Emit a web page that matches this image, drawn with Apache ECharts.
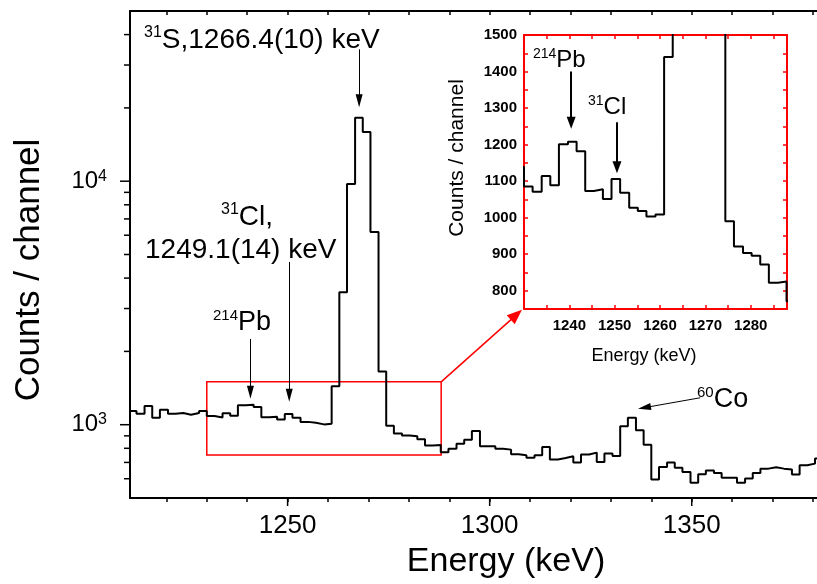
<!DOCTYPE html>
<html>
<head>
<meta charset="utf-8">
<script src="https://cdn.jsdelivr.net/npm/echarts@6/dist/echarts.min.js"></script>
<style>
html,body{margin:0;padding:0;background:#fff;}
#chart{width:817px;height:584px;}
</style>
</head>
<body>
<div id="chart"></div>
<script>
// 通道边界 (keV)：每个通道左边界，最后一个是末通道右边界
var binEdges = [
  1210.7, 1212.6, 1214.6, 1216.5, 1218.4, 1220.4, 1222.3, 1224.2, 1226.1, 1228.1,
  1230.0, 1231.9, 1233.9, 1235.8, 1237.7, 1239.7, 1241.6, 1243.5, 1245.4, 1247.4,
  1249.3, 1251.2, 1253.2, 1255.1, 1257.0, 1259.0, 1260.9, 1262.8, 1264.7, 1266.7,
  1268.6, 1270.5, 1272.5, 1274.4, 1276.3, 1278.3, 1280.2, 1282.1, 1284.0, 1286.0,
  1287.9, 1289.8, 1291.8, 1293.7, 1295.6, 1297.6, 1299.5, 1301.4, 1303.3, 1305.3,
  1307.2, 1309.1, 1311.1, 1313.0, 1314.9, 1316.9, 1318.8, 1320.7, 1322.6, 1324.6,
  1326.5, 1328.4, 1330.4, 1332.3, 1334.2, 1336.2, 1338.1, 1340.0, 1341.9, 1343.9,
  1345.8, 1347.7, 1349.7, 1351.6, 1353.5, 1355.5, 1357.4, 1359.3, 1361.2, 1363.2,
  1365.1, 1367.0, 1369.0, 1370.9, 1372.8, 1374.8, 1376.7, 1378.6, 1380.5, 1382.5
];
// 每个通道的计数
var counts = [
  1138, 1109, 1193, 1068, 1152, 1109, 1117, 1099, 1117, 1139,
  1085, 1071, 1114, 1089, 1201, 1208, 1182, 1073, 1078, 1051,
  1106, 1068, 1027, 1018, 1003, 1009, 1440, 3500, 9730, 18240,
  15920, 6190, 1653, 990, 921, 903, 896, 872, 822, 825,
  771, 797, 836, 868, 942, 815, 815, 797, 790, 756,
  749, 732, 749, 810, 719, 730, 742, 699, 754, 768,
  703, 761, 744, 986, 1068, 948, 828, 595, 671, 699,
  665, 640, 577, 626, 648, 634, 606, 605, 577, 601,
  634, 660, 669, 660, 654, 624, 681, 692, 726
];
// 主图刻度
var xMainTicks = [1220, 1230, 1240, 1250, 1260, 1270, 1280, 1290, 1300, 1310, 1320, 1330, 1340, 1350, 1360, 1370, 1380];
var xMainLabels = [1250, 1300, 1350];
var yMajorTicks = [1000, 10000];
var yMinorTicks = [600, 700, 800, 900, 2000, 3000, 4000, 5000, 6000, 7000, 8000, 9000, 20000, 30000, 40000];
// 小图刻度
var insetXTicks = [1235, 1240, 1245, 1250, 1255, 1260, 1265, 1270, 1275, 1280, 1285];
var insetXLabels = [1240, 1250, 1260, 1270, 1280];
var insetYTicks = [800, 850, 900, 950, 1000, 1050, 1100, 1150, 1200, 1250, 1300, 1350, 1400, 1450];
var insetYLabels = [800, 900, 1000, 1100, 1200, 1300, 1400, 1500];

(function () {
  var myChart = echarts.init(document.getElementById('chart'));
  var FONT = 'Liberation Sans';
  var xMin = 1211, xMax = 1381, yMin = 500, yMax = 50000;

  // 台阶线的点：左边界 + 计数，最后补一个右边界
  var stepData = binEdges.map(function (e, i) {
    return [e, counts[Math.min(i, counts.length - 1)]];
  });

  // 不要千位分隔符
  function plain(v) { return String(v); }

  // 上标文字
  function supText(sup, main, big, small) {
    return {
      text: '{s|' + sup + '}{m|' + main + '}',
      rich: {
        s: { fontSize: small, fontFamily: FONT, fill: '#000', verticalAlign: 'top', lineHeight: small },
        m: { fontSize: big, fontFamily: FONT, fill: '#000', lineHeight: big + 2 }
      },
      align: 'left',
      verticalAlign: 'middle'
    };
  }

  var redAxis = { lineStyle: { color: '#f00', width: 2 } };
  var redTick = { show: true, inside: true, length: 4, lineStyle: { color: '#f00', width: 1.5 } };

  var option = {
    animation: false,
    textStyle: { fontFamily: FONT },
    grid: [
      { left: 130, right: 0, top: 11, bottom: 86, outerBoundsMode: 'none' },
      { left: 524, top: 35, width: 263, height: 274, show: true, backgroundColor: '#fff', borderWidth: 0, outerBoundsMode: 'none' }
    ],
    xAxis: [
      {
        gridIndex: 0, type: 'value', position: 'bottom', min: xMin, max: xMax,
        axisLine: { lineStyle: { color: '#000', width: 2 } },
        axisTick: { customValues: xMainTicks, length: 4, lineStyle: { color: '#000', width: 1.5 } },
        axisLabel: { customValues: xMainLabels, fontSize: 26, color: '#000', margin: 15, formatter: plain },
        splitLine: { show: false }
      },
      {
        gridIndex: 0, type: 'value', position: 'top', min: xMin, max: xMax,
        axisLine: { lineStyle: { color: '#000', width: 2 } },
        axisTick: { customValues: xMainTicks, inside: true, length: 4, lineStyle: { color: '#000', width: 1.5 } },
        axisLabel: { show: false },
        splitLine: { show: false }
      },
      {
        gridIndex: 1, type: 'value', position: 'bottom', min: 1230, max: 1288,
        axisLine: redAxis, axisTick: Object.assign({ customValues: insetXTicks }, redTick),
        axisLabel: { customValues: insetXLabels, fontSize: 15, fontWeight: 'bold', color: '#000', margin: 9, formatter: plain },
        splitLine: { show: false }
      },
      {
        gridIndex: 1, type: 'value', position: 'top', min: 1230, max: 1288,
        axisLine: redAxis, axisTick: Object.assign({ customValues: insetXTicks }, redTick),
        axisLabel: { show: false }, splitLine: { show: false }
      }
    ],
    yAxis: [
      {
        gridIndex: 0, type: 'log', logBase: 10, min: yMin, max: yMax,
        axisLine: { show: true, lineStyle: { color: '#000', width: 2 } },
        axisTick: { show: false },
        axisLabel: {
          margin: 23,
          formatter: function (v) {
            var l = Math.log10(v), p = Math.round(l);
            if (Math.abs(l - p) > 1e-6) return '';
            return '{b|10}{s|' + p + '}';
          },
          rich: {
            b: { fontSize: 24, color: '#000', lineHeight: 26 },
            s: { fontSize: 16, color: '#000', verticalAlign: 'top', lineHeight: 16 }
          }
        },
        splitLine: { show: false }
      },
      {
        gridIndex: 1, type: 'value', position: 'left', min: 750, max: 1500,
        axisLine: Object.assign({ show: true }, redAxis),
        axisTick: Object.assign({ customValues: insetYTicks }, redTick),
        axisLabel: { customValues: insetYLabels, fontSize: 15, fontWeight: 'bold', color: '#000', margin: 7, formatter: plain },
        splitLine: { show: false }
      },
      {
        gridIndex: 1, type: 'value', position: 'right', min: 750, max: 1500,
        axisLine: Object.assign({ show: true }, redAxis),
        axisTick: Object.assign({ customValues: insetYTicks }, redTick),
        axisLabel: { show: false }, splitLine: { show: false }
      }
    ],
    series: [
      {
        name: 'spectrum', type: 'line', xAxisIndex: 0, yAxisIndex: 0,
        data: stepData, step: 'end', symbol: 'none', showSymbol: false,
        lineStyle: { color: '#000', width: 2 }, itemStyle: { color: '#000' },
        z: 3,
        markArea: {
          silent: true,
          itemStyle: { color: 'rgba(0,0,0,0)', borderColor: '#f00', borderWidth: 1.5 },
          data: [[{ coord: [1230, 750] }, { coord: [1288, 1500] }]]
        },
        // 箭头
        markLine: {
          silent: true, animation: false,
          symbol: ['none', 'triangle'], symbolSize: [7, 13],
          label: { show: false },
          lineStyle: { color: '#000', width: 1, type: 'solid' },
          data: [
            [{ coord: [1267.7, 34800] }, { coord: [1267.7, 21400] }],
            [{ coord: [1250.4, 4660] }, { coord: [1250.4, 1321] }],
            [{ coord: [1240.8, 2250] }, { coord: [1240.8, 1359] }],
            [{ coord: [1352.1, 1290] }, { coord: [1338.3, 1175] }],
            [{ coord: [1288, 1500], lineStyle: { color: '#f00', width: 1.5 }, itemStyle: { color: '#f00' } },
             { coord: [1306.6, 2826], symbolSize: [12, 15], itemStyle: { color: '#f00' } }]
          ]
        }
      },
      {
        // 主图 y 轴刻度（对数轴的 2..9 小刻度）
        type: 'custom', xAxisIndex: 0, yAxisIndex: 0, clip: false, silent: true, z: 4,
        data: yMajorTicks.map(function (v) { return [xMin, v, 1]; })
          .concat(yMinorTicks.map(function (v) { return [xMin, v, 0]; })),
        renderItem: function (params, api) {
          var p = api.coord([api.value(0), api.value(1)]);
          var len = api.value(2) ? 10 : 6;
          return { type: 'line', shape: { x1: p[0] - len, y1: p[1], x2: p[0], y2: p[1] }, style: { stroke: '#000', lineWidth: 1.5 } };
        }
      },
      {
        // 主图 x 轴大刻度
        type: 'custom', xAxisIndex: 0, yAxisIndex: 0, clip: false, silent: true, z: 4,
        data: xMainLabels.map(function (v) { return [v, yMin]; }),
        renderItem: function (params, api) {
          var p = api.coord([api.value(0), api.value(1)]);
          return { type: 'line', shape: { x1: p[0], y1: p[1], x2: p[0], y2: p[1] + 8 }, style: { stroke: '#000', lineWidth: 1.5 } };
        }
      },
      {
        name: 'inset', type: 'line', xAxisIndex: 2, yAxisIndex: 1,
        data: stepData, step: 'end', symbol: 'none', showSymbol: false, clip: true,
        lineStyle: { color: '#000', width: 2 }, z: 5,
        markLine: {
          silent: true, animation: false,
          symbol: ['none', 'triangle'], symbolSize: [9, 12],
          label: { show: false },
          lineStyle: { color: '#000', width: 2, type: 'solid' },
          data: [
            [{ coord: [1240.4, 1400] }, { coord: [1240.4, 1260] }],
            [{ coord: [1250.5, 1261] }, { coord: [1250.5, 1138] }]
          ]
        }
      }
    ],
    graphic: [
      { type: 'text', x: 29, y: 270, rotation: Math.PI / 2, style: { text: 'Counts / channel', font: '35px ' + FONT, fill: '#000', align: 'center', verticalAlign: 'middle' } },
      { type: 'text', x: 506, y: 562, style: { text: 'Energy (keV)', font: '34px ' + FONT, fill: '#000', align: 'center', verticalAlign: 'middle' } },
      { type: 'text', x: 457, y: 158, rotation: Math.PI / 2, style: { text: 'Counts / channel', font: '21px ' + FONT, fill: '#000', align: 'center', verticalAlign: 'middle' } },
      { type: 'text', x: 644, y: 356, style: { text: 'Energy (keV)', font: '18px ' + FONT, fill: '#000', align: 'center', verticalAlign: 'middle' } },
      { type: 'text', x: 144, y: 40, style: supText('31', 'S,1266.4(10) keV', 28, 16) },
      { type: 'text', x: 221, y: 217, style: supText('31', 'Cl,', 28, 16) },
      { type: 'text', x: 145, y: 250, style: { text: '1249.1(14) keV', font: '28px ' + FONT, fill: '#000', align: 'left', verticalAlign: 'middle' } },
      { type: 'text', x: 213, y: 323, style: supText('214', 'Pb', 27, 15) },
      { type: 'text', x: 697, y: 400, style: supText('60', 'Co', 27, 15) },
      { type: 'text', x: 533, y: 60, style: supText('214', 'Pb', 24, 14) },
      { type: 'text', x: 588, y: 107, style: supText('31', 'Cl', 24, 14) }
    ]
  };

  myChart.setOption(option);
  window.addEventListener('resize', function () {
    myChart.resize();
  });
})();
</script>
</body>
</html>
